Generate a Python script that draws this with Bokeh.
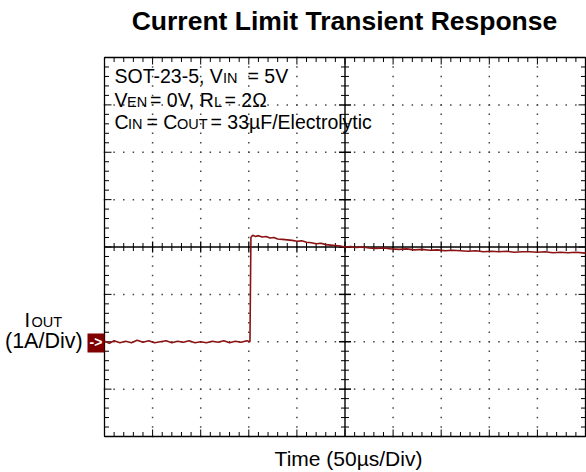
import numpy as np
from bokeh.plotting import figure
from bokeh.models import Label, Range1d
from bokeh.embed import file_html
from bokeh.resources import INLINE

# ---------------- data ----------------
time_us = [0, 5, 10, 16, 22, 28, 34, 40, 46, 52, 58, 64, 70, 76, 82, 88, 94, 100,
           106, 112, 118, 124, 130, 136, 142, 148, 151.2,
           152.2, 154, 157, 160, 164, 168, 172, 176, 180, 185, 190, 195, 200, 205,
           210, 215, 220, 225, 230, 235, 240, 245, 250, 256, 262, 268, 275, 282,
           290, 298, 306, 314, 322, 330, 338, 346, 354, 362, 370, 378, 386, 394,
           402, 410, 418, 426, 434, 442, 450, 458, 466, 474, 482, 490, 500]
current_a = [0.01, -0.03, 0.02, -0.02, 0.01, -0.02, 0.03, -0.01, 0.02, -0.02, 0.0, 0.02,
             -0.02, 0.01, -0.01, 0.02, -0.02, 0.0, -0.02, 0.01, -0.01, 0.02, -0.02, 0.01,
             -0.01, 0.02, 0.0,
             2.20, 2.25, 2.22, 2.24, 2.21, 2.22, 2.19, 2.20, 2.17, 2.16, 2.15, 2.14, 2.12,
             2.13, 2.10, 2.09, 2.07, 2.08, 2.05, 2.04, 2.03, 2.02, 2.00, 2.01, 1.99, 2.00,
             1.98, 1.97, 1.98, 1.96, 1.95, 1.96, 1.94, 1.95, 1.93, 1.94, 1.92, 1.93, 1.92,
             1.91, 1.92, 1.90, 1.91, 1.90, 1.91, 1.89, 1.90, 1.90, 1.89, 1.90, 1.88, 1.89,
             1.88, 1.89, 1.87]

x_major = list(range(0, 501, 50))
x_minor = list(range(0, 501, 10))
y_major = list(range(-2, 7))
y_minor = [round(-2 + 0.2 * i, 1) for i in range(41)]
x_center = 250
y_center = 2

title_text = "Current Limit Transient Response"
x_label_text = "Time (50µs/Div)"
ch_label_main = "I"
ch_label_sub = "OUT"
ch_scale_text = "(1A/Div)"
marker_text = "->"
note_line1 = ["SOT-23-5, V", "IN", "= 5V"]
note_line2 = ["V", "EN", "= 0V, R", "L", "= 2Ω"]
note_line3 = ["C", "IN", "= C", "OUT", "= 33µF/Electrolytic"]

# ---------------- layout helpers ----------------
W, H = 586, 472
FONT = "Liberation Sans"
FL, FT = 104.0, 57.0          # canvas px of the scope screen's left/top edge
SX = 481.0 / 500.0            # px per µs
SY = 379.0 / 8.0              # px per A
TRACE = "#8b1212"
BASE_SHIFT = 0.36             # correction of the rendered baseline, in em


def dx(X):
    return (X - FL) / SX


def dy(Y):
    return 6 - (Y - FT) / SY


p = figure(width=W, height=H, x_range=Range1d(dx(0), dx(W)), y_range=Range1d(dy(H), dy(0)),
           x_axis_type=None, y_axis_type=None, toolbar_location=None,
           output_backend="svg", min_border=0)
p.min_border_left = p.min_border_right = p.min_border_top = p.min_border_bottom = 0
p.outline_line_color = None
p.background_fill_color = "white"
p.border_fill_color = "white"
p.xgrid.visible = False
p.ygrid.visible = False

x0, x1 = x_major[0], x_major[-1]
y0, y1 = y_major[0], y_major[-1]

# dotted graticule
gx, gy = [], []
for xv in x_major[1:-1]:
    if xv == x_center:
        continue
    for yv in y_minor:
        gx.append(xv); gy.append(yv)
for yv in y_major[1:-1]:
    if yv == y_center:
        continue
    for xv in x_minor:
        gx.append(xv); gy.append(yv)
p.scatter(gx, gy, marker="square", size=1.5, color="#444444", line_color=None)

# screen border
p.quad(left=x0, right=x1, bottom=y0, top=y1, fill_color=None, line_color="black",
       line_width=1.3)


# inward edge ticks
def tick_len(v, majors, mn, mj):
    return mj if v in majors else mn


bx0, by0, bx1, by1 = [], [], [], []
for xv in x_minor[1:-1]:
    L = tick_len(xv, x_major, 4.5, 7) / SY
    bx0 += [xv, xv]; bx1 += [xv, xv]
    by0 += [y0, y1]; by1 += [y0 + L, y1 - L]
for yv in y_minor[1:-1]:
    L = tick_len(yv, y_major, 4.5, 7) / SX
    bx0 += [x0, x1]; bx1 += [x0 + L, x1 - L]
    by0 += [yv, yv]; by1 += [yv, yv]
p.segment(bx0, by0, bx1, by1, line_color="black", line_width=1)

# centre cross with ticks
p.segment([x_center, x0], [y0, y_center], [x_center, x1], [y1, y_center],
          line_color="black", line_width=1.4)
xm_minor = [v for v in x_minor if v not in x_major]
ym_minor = [v for v in y_minor if v not in y_major]
p.scatter(xm_minor, [y_center] * len(xm_minor), marker="dash", size=8, angle=np.pi / 2,
          line_color="black", line_width=1)
p.scatter(x_major[1:-1], [y_center] * (len(x_major) - 2), marker="dash", size=11,
          angle=np.pi / 2, line_color="black", line_width=1.3)
p.scatter([x_center] * len(ym_minor), ym_minor, marker="dash", size=8,
          line_color="black", line_width=1)
p.scatter([x_center] * (len(y_major) - 2), y_major[1:-1], marker="dash", size=12,
          line_color="black", line_width=1.5)

# trace
p.line(time_us, current_a, line_color=TRACE, line_width=1.6)

# ground marker box for the channel
p.quad(left=dx(87), right=x0, bottom=dy(352), top=dy(333), fill_color="#800000",
       line_color=None)


def add_text(txt, X, Y, size, bold=False, color="black", align="left"):
    p.add_layout(Label(x=dx(X), y=dy(Y - BASE_SHIFT * size), text=txt, text_font=FONT,
                       text_font_size=f"{size}px",
                       text_font_style="bold" if bold else "normal",
                       text_color=color, text_align=align,
                       text_baseline="alphabetic"))


add_text(marker_text, 95.5, 347, 14, bold=True, color="white", align="center")

# title & axis label
add_text(title_text, 344, 30, 26.5, bold=True, align="center")
add_text(x_label_text, 348, 466, 21, align="center")

# notes
MS, SS = 19.5, 14.5
for txt, X, size in zip(note_line1, [114, 222.5, 247], [MS, SS, MS]):
    add_text(txt, X, 83, size)
for txt, X, size in zip(note_line2, [114, 126.5, 149.5, 213.5, 224], [MS, SS, MS, SS, MS]):
    add_text(txt, X, 107, size)
for txt, X, size in zip(note_line3, [114, 127.5, 146, 176.5, 210], [MS, SS, MS, SS, MS]):
    add_text(txt, X, 129, size)

# channel label
add_text(ch_label_main, 24, 327, 20)
add_text(ch_label_sub, 31, 327, 14.5)
add_text(ch_scale_text, 4.5, 348, 21.5)

open("out.html", "w").write(file_html(p, INLINE))
